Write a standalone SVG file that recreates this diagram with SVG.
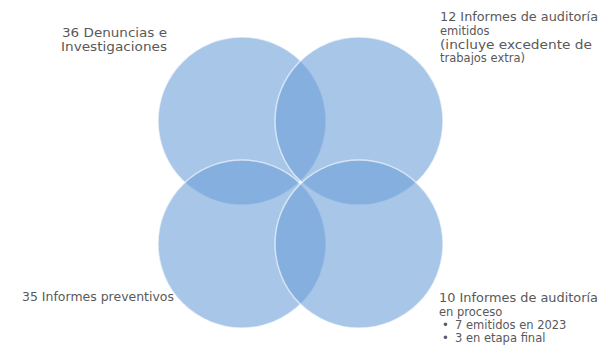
<svg xmlns="http://www.w3.org/2000/svg" width="599" height="364" viewBox="0 0 599 364">
<style>
.c{fill:#6ea0d9;fill-opacity:0.6;stroke:#ffffff;stroke-opacity:0.6;stroke-width:1.5}
.t{font-family:"DejaVu Sans",sans-serif;font-size:11.5px;fill:#595959}
</style>
<rect width="599" height="364" fill="#ffffff"/>
<g id="circle-tl"><circle class="c" cx="242" cy="121" r="84"/></g>
<g id="circle-tr"><circle class="c" cx="359" cy="121" r="84"/></g>
<g id="circle-bl"><circle class="c" cx="242" cy="244" r="84"/></g>
<g id="circle-br"><circle class="c" cx="359" cy="244" r="84"/></g>
<g id="connectors"></g>
<g id="label-tl">
<text class="t" x="62" y="37" textLength="105" lengthAdjust="spacingAndGlyphs">36 Denuncias e</text>
<text class="t" x="61" y="51" textLength="106" lengthAdjust="spacingAndGlyphs">Investigaciones</text>
</g>
<g id="label-tr">
<text class="t" x="440" y="21" textLength="158" lengthAdjust="spacingAndGlyphs">12 Informes de auditoría</text>
<text class="t" x="440" y="35">emitidos</text>
<text class="t" x="440" y="49" textLength="152" lengthAdjust="spacingAndGlyphs">(incluye excedente de</text>
<text class="t" x="440" y="62">trabajos extra)</text>
</g>
<g id="label-bl">
<text class="t" x="22" y="301" textLength="152" lengthAdjust="spacingAndGlyphs">35 Informes preventivos</text>
</g>
<g id="label-br">
<text class="t" x="439" y="302" textLength="159" lengthAdjust="spacingAndGlyphs">10 Informes de auditoría</text>
<text class="t" x="439" y="316">en proceso</text>
<text class="t" x="442" y="329">•</text>
<text class="t" x="455" y="329">7 emitidos en 2023</text>
<text class="t" x="442" y="342">•</text>
<text class="t" x="455" y="342">3 en etapa final</text>
</g>
</svg>
